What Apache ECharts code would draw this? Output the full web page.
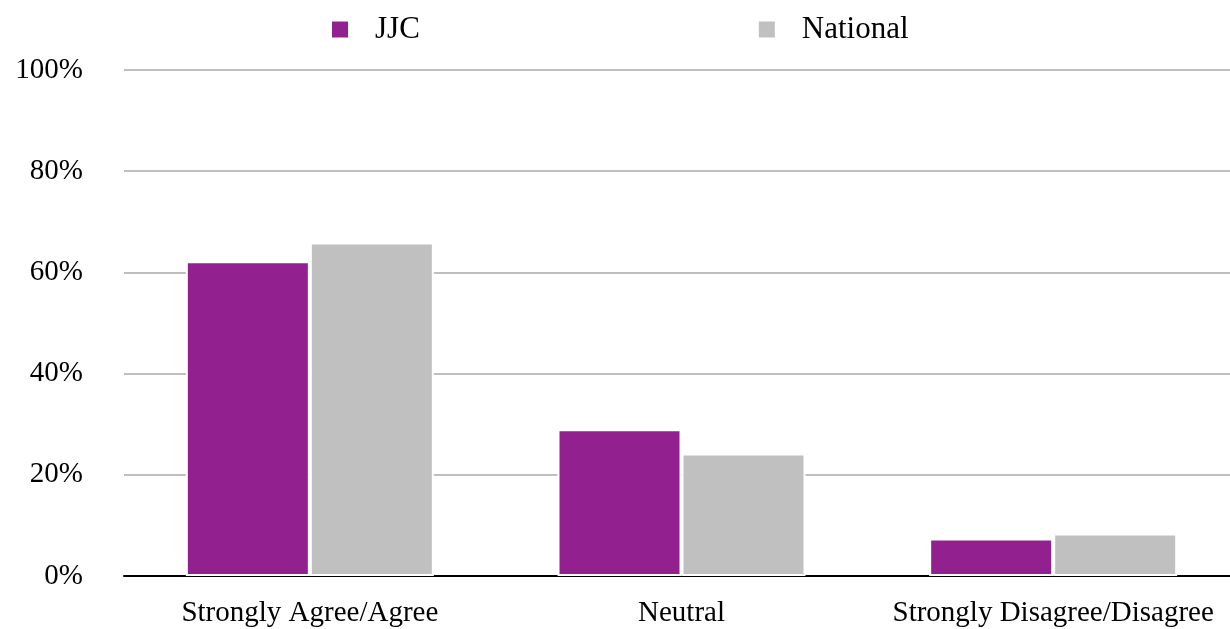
<!DOCTYPE html>
<html>
<head>
<meta charset="utf-8">
<script src="https://cdn.jsdelivr.net/npm/echarts@6/dist/echarts.min.js"></script>
<style>html,body{margin:0;padding:0;background:#fff;overflow:hidden;width:1230px;height:629px}#c{width:1239px;height:629px}</style>
</head>
<body>
<div id="c"></div>
<script>
const categories = ['Strongly Agree/Agree', 'Neutral', 'Strongly Disagree/Disagree'];
const jjc = [62.2, 29.0, 7.4];
const national = [65.9, 24.2, 8.4];
const yTicks = [0, 20, 40, 60, 80, 100];

const font = 'Liberation Serif';
const chart = echarts.init(document.getElementById('c'));
chart.setOption({
  animation: false,
  textStyle: { fontFamily: font },
  legend: {
    top: 14, left: 330, padding: 0,
    itemWidth: 18, itemHeight: 18, itemGap: 337,
    icon: 'rect',
    textStyle: { fontFamily: font, fontSize: 31, color: '#000', padding: [0, 0, 0, 21] },
    data: ['JJC', 'National']
  },
  grid: { left: 124, right: 0, top: 70, bottom: 53, containLabel: false },
  xAxis: {
    type: 'category', data: categories,
    axisLine: { lineStyle: { color: '#000', width: 2 } },
    axisTick: { show: false },
    axisLabel: { fontFamily: font, fontSize: 29, color: '#000', margin: 23, interval: 0 }
  },
  yAxis: {
    type: 'value', min: 0, max: 100, interval: 20,
    axisLine: { show: false }, axisTick: { show: false },
    splitLine: { lineStyle: { color: '#bfbfbf', width: 2 } },
    axisLabel: { fontFamily: font, fontSize: 29, color: '#000', margin: 41,
      formatter: v => yTicks.includes(v) ? v + '%' : '' }
  },
  series: [
    { name: 'JJC', type: 'bar', data: jjc, barWidth: 124, barGap: '0%',
      itemStyle: { color: '#93208f', borderColor: '#fff', borderWidth: 2 } },
    { name: 'National', type: 'bar', data: national, barWidth: 124,
      itemStyle: { color: '#c0c0c0', borderColor: '#fff', borderWidth: 2 } }
  ]
});
</script>
</body>
</html>
